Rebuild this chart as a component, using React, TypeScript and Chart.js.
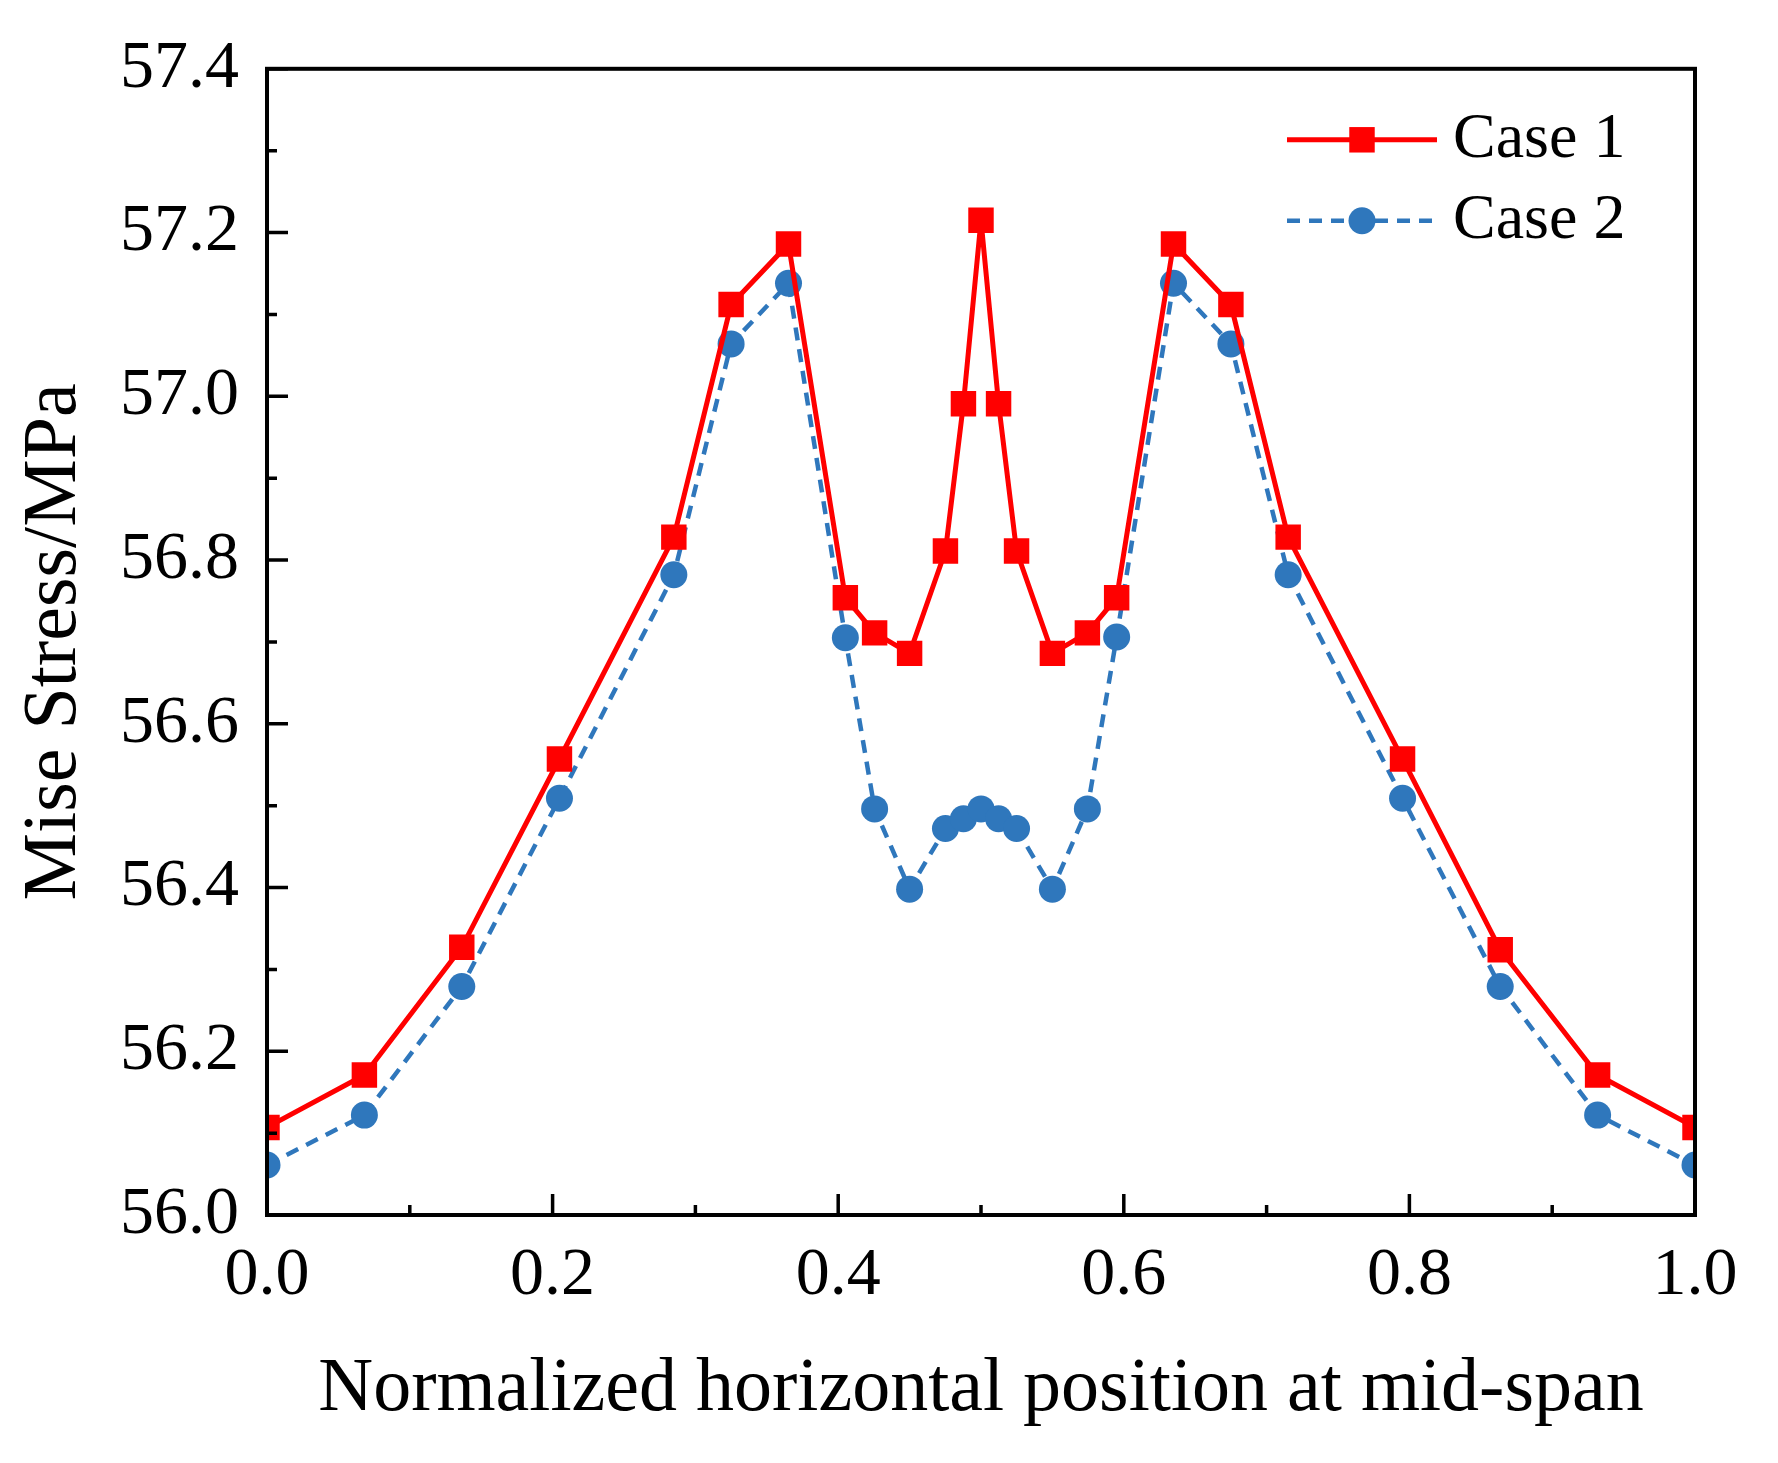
import React, { useEffect, useRef } from "react";
import { Chart, registerables } from "chart.js";

Chart.register(...registerables);

// ---- data ----
const xPositions = [
  0, 0.0682, 0.1364, 0.2048, 0.2849, 0.325, 0.3652, 0.405, 0.4255, 0.45, 0.4751, 0.4877, 0.5,
  0.5123, 0.5249, 0.55, 0.5745, 0.595, 0.6348, 0.675, 0.7151, 0.7952, 0.8636, 0.9318, 1.0,
];
const case1Values = [
  56.107, 56.171, 56.327, 56.557, 56.828, 57.112, 57.186, 56.754, 56.711, 56.686, 56.811, 56.991, 57.215,
  56.991, 56.811, 56.686, 56.711, 56.754, 57.186, 57.112, 56.828, 56.557, 56.324, 56.171, 56.107,
];
const case2Values = [
  56.061, 56.122, 56.279, 56.509, 56.782, 57.064, 57.138, 56.705, 56.496, 56.398, 56.472, 56.484, 56.496,
  56.484, 56.472, 56.398, 56.496, 56.706, 57.138, 57.064, 56.782, 56.509, 56.279, 56.122, 56.061,
];
const seriesLabels = ["Case 1", "Case 2"];
const xTickValues = [0, 0.2, 0.4, 0.6, 0.8, 1.0];
const yTickValues = [56.0, 56.2, 56.4, 56.6, 56.8, 57.0, 57.2, 57.4];
const xTitle = "Normalized horizontal position at mid-span";
const yTitle = "Mise Stress/MPa";

// ---- styles ----
const FONT = "'Liberation Serif', 'Times New Roman', serif";
const RED = "#FF0000";
const BLUE = "#2F77BC";

const frameTicksLegend = {
  id: "frameTicksLegend",
  afterDraw(chart: any) {
    const { ctx, chartArea } = chart;
    const { left, right, top, bottom } = chartArea;
    const xs = chart.scales.x;
    const ys = chart.scales.y;
    ctx.save();
    ctx.strokeStyle = "#000";
    ctx.lineWidth = 4;
    ctx.setLineDash([]);
    ctx.strokeRect(left, top, right - left, bottom - top);

    const major = 21;
    const minor = 10;
    ctx.lineWidth = 3.5;
    ctx.beginPath();
    yTickValues.forEach((v, i) => {
      const py = ys.getPixelForValue(v);
      ctx.moveTo(left, py);
      ctx.lineTo(left + major, py);
      if (i < yTickValues.length - 1) {
        const pm = ys.getPixelForValue((v + yTickValues[i + 1]) / 2);
        ctx.moveTo(left, pm);
        ctx.lineTo(left + minor, pm);
      }
    });
    xTickValues.forEach((v, i) => {
      const px = xs.getPixelForValue(v);
      ctx.moveTo(px, bottom);
      ctx.lineTo(px, bottom - major);
      if (i < xTickValues.length - 1) {
        const pm = xs.getPixelForValue((v + xTickValues[i + 1]) / 2);
        ctx.moveTo(pm, bottom);
        ctx.lineTo(pm, bottom - minor);
      }
    });
    ctx.stroke();

    // legend
    const rows = [top + 71, top + 152];
    const lineStart = right - 408;
    const lineEnd = right - 258;
    const textX = right - 242;
    chart.data.datasets.forEach((ds: any, i: number) => {
      const y = rows[i];
      ctx.strokeStyle = ds.borderColor;
      ctx.lineWidth = ds.borderWidth;
      ctx.setLineDash(ds.borderDash || []);
      ctx.beginPath();
      ctx.moveTo(lineStart, y);
      ctx.lineTo(lineEnd, y);
      ctx.stroke();
      ctx.setLineDash([]);
      ctx.fillStyle = ds.backgroundColor;
      const cx = (lineStart + lineEnd) / 2;
      if (ds.pointStyle === "rect") {
        const h = ds.pointRadius * Math.SQRT1_2;
        ctx.fillRect(cx - h, y - h, 2 * h, 2 * h);
      } else {
        ctx.beginPath();
        ctx.arc(cx, y, ds.pointRadius, 0, Math.PI * 2);
        ctx.fill();
      }
      ctx.fillStyle = "#000";
      ctx.font = `64px ${FONT}`;
      ctx.textAlign = "left";
      ctx.textBaseline = "middle";
      ctx.fillText(ds.label, textX, y);
    });
    ctx.restore();
  },
};

export default function App() {
  const canvasRef = useRef<HTMLCanvasElement | null>(null);

  useEffect(() => {
    if (!canvasRef.current) return;
    const chart = new Chart(canvasRef.current, {
      type: "line",
      data: {
        datasets: [
          {
            label: seriesLabels[0],
            data: xPositions.map((x, i) => ({ x, y: case1Values[i] })),
            borderColor: RED,
            backgroundColor: RED,
            borderWidth: 5,
            pointStyle: "rect",
            pointRadius: 18,
            pointBorderWidth: 0,
            pointHoverRadius: 18,
            clip: 0,
            tension: 0,
          } as any,
          {
            label: seriesLabels[1],
            data: xPositions.map((x, i) => ({ x, y: case2Values[i] })),
            borderColor: BLUE,
            backgroundColor: BLUE,
            borderWidth: 4.5,
            borderDash: [13, 9],
            pointStyle: "circle",
            pointRadius: 13.5,
            pointBorderWidth: 0,
            pointHoverRadius: 13.5,
            clip: 0,
            tension: 0,
          } as any,
        ],
      },
      options: {
        responsive: false,
        animation: false,
        devicePixelRatio: 1,
        events: [],
        layout: { padding: { left: 0, top: 67, right: 83, bottom: 0 } },
        plugins: {
          legend: { display: false },
          tooltip: { enabled: false },
        },
        scales: {
          x: {
            type: "linear",
            min: 0,
            max: 1,
            grid: { display: false, drawTicks: false },
            border: { display: false },
            afterBuildTicks: (scale: any) => {
              scale.ticks = xTickValues.map((v) => ({ value: v }));
            },
            afterFit: (scale: any) => {
              scale.height = 248;
            },
            ticks: {
              padding: 20,
              color: "#000",
              font: { family: FONT, size: 68 },
              maxRotation: 0,
              callback: (v: any) => Number(v).toFixed(1),
            },
            title: {
              display: true,
              text: xTitle,
              color: "#000",
              font: { family: FONT, size: 76, lineHeight: 1.2 },
              padding: { top: 0, bottom: 27 },
            },
          },
          y: {
            type: "linear",
            min: 56,
            max: 57.4,
            grid: { display: false, drawTicks: false },
            border: { display: false },
            afterBuildTicks: (scale: any) => {
              scale.ticks = yTickValues.map((v) => ({ value: v }));
            },
            afterFit: (scale: any) => {
              scale.width = 267;
            },
            ticks: {
              padding: 28,
              color: "#000",
              font: { family: FONT, size: 68 },
              callback: (v: any) => Number(v).toFixed(1),
            },
            title: {
              display: true,
              text: yTitle,
              color: "#000",
              font: { family: FONT, size: 76, lineHeight: 1.2 },
              padding: { top: 9, bottom: 0 },
            },
          },
        },
      } as any,
      plugins: [frameTicksLegend],
    });
    return () => chart.destroy();
  }, []);

  return (
    <div style={{ position: "absolute", left: 0, top: 0, width: 1778, height: 1463, background: "#fff" }}>
      <canvas ref={canvasRef} width={1778} height={1463} style={{ width: 1778, height: 1463, display: "block" }} />
    </div>
  );
}
